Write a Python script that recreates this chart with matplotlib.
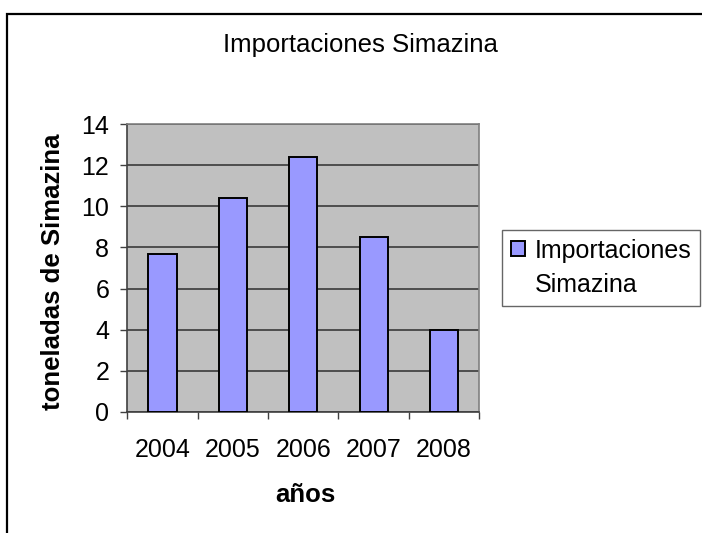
import numpy as np
import matplotlib.pyplot as plt
from matplotlib.patches import Patch
from matplotlib.lines import Line2D

plt.rcParams['font.family'] = ['Liberation Sans', 'DejaVu Sans']

years = ['2004', '2005', '2006', '2007', '2008']
importaciones = [7.7, 10.4, 12.4, 8.5, 4.0]
y_ticks = [0, 2, 4, 6, 8, 10, 12, 14]

fig = plt.figure(figsize=(7.02, 5.33), dpi=100)
ax = fig.add_axes([0.1813, 0.2276, 0.5014, 0.5392])

# outer chart frame: only left and top edges are inside the picture
fx, fy = 7 / 702, 1 - 14 / 533
fig.lines.append(Line2D([fx, fx, 1.05], [-0.05, fy, fy], transform=fig.transFigure,
                        color='black', linewidth=1.6, solid_joinstyle='miter'))

x = np.arange(len(years))
ax.set_facecolor('#C0C0C0')
ax.set_axisbelow(True)
ax.yaxis.grid(True, color='#3a3a3a', linewidth=1.2)
ax.bar(x, importaciones, width=0.4, color='#9999FF', edgecolor='black', linewidth=1.4, zorder=3)

ax.set_xlim(-0.5, len(years) - 0.5)
ax.set_ylim(0, 14)
ax.set_yticks(y_ticks)

# category boundaries as major ticks, labels on minor ticks at the centres
ax.set_xticks(np.arange(-0.5, len(years), 1.0))
ax.set_xticklabels([])
ax.set_xticks(x, minor=True)
ax.set_xticklabels(years, minor=True)
ax.tick_params(axis='x', which='major', length=5, width=1, color='#404040', direction='out')
ax.tick_params(axis='x', which='minor', length=0, pad=19, labelsize=18)
ax.tick_params(axis='y', length=5, width=1, color='#404040', direction='out', pad=8, labelsize=18)

for side in ['top', 'right']:
    ax.spines[side].set_color('#808080')
    ax.spines[side].set_linewidth(1.2)
for side in ['left', 'bottom']:
    ax.spines[side].set_color('#404040')
    ax.spines[side].set_linewidth(1.2)

ax.set_ylabel('toneladas de Simazina', fontsize=18.5, fontweight='bold', va='center')
ax.yaxis.set_label_coords(-0.211, 0.486)
ax.set_xlabel('años', fontsize=18.5, fontweight='bold', va='center')
ax.xaxis.set_label_coords(0.505, -0.29)

fig.text(360 / 702, 1 - 45 / 533, 'Importaciones Simazina', fontsize=18.5,
         ha='center', va='center')

handles = [Patch(facecolor='#9999FF', edgecolor='black', linewidth=1.4),
           Patch(facecolor='none', edgecolor='none')]
leg = fig.legend(handles, ['Importaciones', 'Simazina'], loc='upper left',
                 bbox_to_anchor=(502 / 702, 1 - 230 / 533), borderaxespad=0,
                 fontsize=18, frameon=True, fancybox=False, handlelength=0.55,
                 handleheight=0.55, handletextpad=0.4, borderpad=0.35, labelspacing=0.4)
leg.get_frame().set_edgecolor('#404040')
leg.get_frame().set_linewidth(1.0)

plt.savefig('out.png', dpi=100)
